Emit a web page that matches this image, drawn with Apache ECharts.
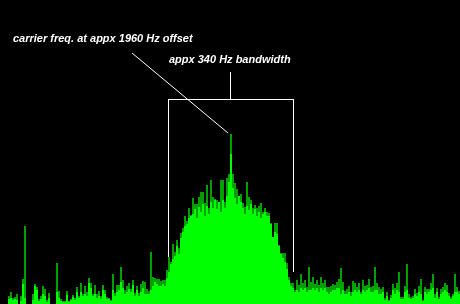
<!DOCTYPE html>
<html>
<head>
<meta charset="utf-8">
<script src="https://cdn.jsdelivr.net/npm/echarts@6/dist/echarts.min.js"></script>
<style>
html,body{margin:0;padding:0;background:#000;}
#chart{width:460px;height:304px;}
</style>
</head>
<body>
<div id="chart"></div>
<script>
// Frequency bins (2 px each across the span), index only
const bins = Array.from({length: 230}, (_, i) => String(i));
// Peak-hold trace (dark green)
const peakTrace = [
0,0,0,0,8,12,6,7,10,0,
8,25,78,0,0,0,10,20,17,5,
8,18,15,4,11,0,0,0,41,13,
5,3,3,13,3,5,9,6,17,8,
21,10,18,12,26,21,10,19,10,13,
8,19,14,7,6,4,30,11,19,19,
37,24,14,18,21,15,24,11,18,11,
20,23,22,15,13,52,27,26,25,25,
23,24,24,34,47,42,60,52,64,56,
71,76,88,83,96,89,106,100,100,107,
112,112,101,119,96,124,107,105,104,102,
124,124,102,126,130,170,130,121,115,108,
110,101,97,122,107,104,96,99,96,98,
101,92,96,92,91,81,67,81,81,59,
51,51,51,41,27,21,21,14,24,19,
30,21,24,17,37,22,27,20,24,19,
27,21,24,17,17,18,20,19,22,25,
36,22,13,15,18,12,23,21,17,21,
12,24,18,19,25,17,18,37,21,17,
15,17,6,12,4,9,20,16,21,32,
7,7,18,40,10,7,8,15,11,18,
25,4,17,15,15,21,30,10,16,7,
15,17,21,19,11,7,10,30,17,13
];
// Live trace (bright green)
const liveTrace = [
0,0,0,0,5,6,4,5,4,0,
3,20,6,0,0,0,4,18,14,3,
5,10,8,2,6,0,0,0,12,6,
3,2,2,9,2,4,7,4,12,6,
12,8,10,8,21,16,8,10,6,8,
5,14,10,5,5,3,14,8,12,14,
22,16,10,12,15,12,19,8,14,8,
12,16,10,10,10,14,18,22,20,18,
18,20,18,26,32,40,45,48,58,50,
66,72,78,80,86,88,90,95,86,97,
92,100,88,98,90,102,96,104,95,102,
92,104,96,108,122,150,116,106,100,108,
102,96,90,98,94,100,90,95,88,92,
86,90,92,88,88,80,67,72,70,58,
50,46,42,35,24,18,16,12,14,12,
16,14,16,12,14,14,16,14,16,12,
16,14,16,12,10,12,14,14,16,16,
10,14,10,10,12,8,12,14,12,14,
10,14,12,14,16,12,12,14,14,10,
10,12,4,8,3,6,14,10,14,12,
5,5,12,14,6,5,6,10,8,12,
10,3,12,10,12,14,16,6,12,5,
10,12,14,12,8,5,8,12,12,10
];

const chart = echarts.init(document.getElementById('chart'), null, {renderer: 'canvas'});
const font = 'bold italic 11px "Liberation Sans", Arial, sans-serif';
chart.setOption({
  backgroundColor: '#000000',
  animation: false,
  grid: {left: 0, right: 0, top: 0, bottom: 0},
  xAxis: {type: 'category', data: bins, show: false, boundaryGap: true},
  yAxis: {type: 'value', min: 0, max: 304, show: false},
  series: [
    {type: 'bar', data: peakTrace, barCategoryGap: 0, barGap: '-100%',
     itemStyle: {color: '#00a000'}, silent: true},
    {type: 'bar', data: liveTrace, barCategoryGap: 0, barGap: '-100%',
     itemStyle: {color: '#00ff00'}, silent: true}
  ],
  graphic: [
    {type: 'text', left: 13, top: 33, style: {text: 'carrier freq. at appx 1960 Hz offset', fill: '#ffffff', font: font}},
    {type: 'text', left: 169, top: 54, style: {text: 'appx 340 Hz bandwidth', fill: '#ffffff', font: font}},
    {type: 'line', shape: {x1: 132, y1: 53, x2: 228, y2: 133}, style: {stroke: '#ffffff', lineWidth: 1}},
    {type: 'line', shape: {x1: 230.5, y1: 72, x2: 230.5, y2: 99}, style: {stroke: '#ffffff', lineWidth: 1}},
    {type: 'line', shape: {x1: 168.5, y1: 99.5, x2: 293.5, y2: 99.5}, style: {stroke: '#ffffff', lineWidth: 1}},
    {type: 'line', shape: {x1: 168.5, y1: 99, x2: 168.5, y2: 260}, style: {stroke: '#ffffff', lineWidth: 1}},
    {type: 'line', shape: {x1: 293.5, y1: 99, x2: 293.5, y2: 272}, style: {stroke: '#ffffff', lineWidth: 1}}
  ]
});
</script>
</body>
</html>
